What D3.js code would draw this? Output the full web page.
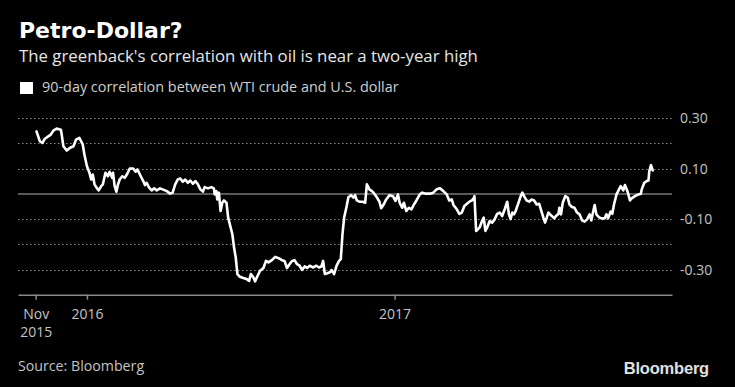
<!DOCTYPE html>
<html>
<head>
<meta charset="utf-8">
<script src="https://cdn.jsdelivr.net/npm/d3@7"></script>
<style>
  html, body { margin: 0; padding: 0; background: #000; }
  svg { display: block; }
</style>
</head>
<body>
<div id="chart"></div>
<script>
// Chart text
const titleText = 'Petro-Dollar?';
const subtitleText = "The greenback's correlation with oil is near a two-year high";
const legendText = '90-day correlation between WTI crude and U.S. dollar';
const sourceText = 'Source: Bloomberg';

// Axis ticks
const yGridValues = [0.3, 0.2, 0.1, -0.1, -0.2, -0.3];
const yLabelValues = [0.3, 0.1, -0.1, -0.3];
const yLabels = ['0.30', '0.10', '-0.10', '-0.30'];
const xTickDates = ['2015-11-01', '2016-01-01', '2017-01-01'];
const xTickLabels = [['Nov', '2015'], ['2016'], ['2017']];

// 90-day correlation, WTI crude vs U.S. dollar
const corrData = [
  ['2015-11-02', 0.248], ['2015-11-06', 0.209], ['2015-11-09', 0.202], ['2015-11-12', 0.219],
  ['2015-11-16', 0.228], ['2015-11-19', 0.235], ['2015-11-22', 0.251], ['2015-11-26', 0.259],
  ['2015-12-01', 0.255], ['2015-12-02', 0.235], ['2015-12-04', 0.189], ['2015-12-08', 0.172],
  ['2015-12-12', 0.183], ['2015-12-16', 0.189], ['2015-12-19', 0.215], ['2015-12-23', 0.222],
  ['2015-12-27', 0.196], ['2015-12-29', 0.156], ['2016-01-01', 0.110], ['2016-01-04', 0.084],
  ['2016-01-06', 0.057], ['2016-01-08', 0.077], ['2016-01-10', 0.038], ['2016-01-13', 0.022],
  ['2016-01-15', 0.014], ['2016-01-18', 0.031], ['2016-01-20', 0.038], ['2016-01-23', 0.084],
  ['2016-01-26', 0.070], ['2016-01-28', 0.088], ['2016-01-31', 0.064], ['2016-02-01', 0.084],
  ['2016-02-03', 0.031], ['2016-02-05', 0.009], ['2016-02-07', 0.038], ['2016-02-09', 0.057],
  ['2016-02-12', 0.070], ['2016-02-15', 0.064], ['2016-02-18', 0.080], ['2016-02-21', 0.101],
  ['2016-02-25', 0.101], ['2016-02-28', 0.088], ['2016-03-01', 0.097], ['2016-03-04', 0.077],
  ['2016-03-08', 0.051], ['2016-03-10', 0.035], ['2016-03-12', 0.044], ['2016-03-15', 0.025],
  ['2016-03-18', 0.014], ['2016-03-21', 0.022], ['2016-03-24', 0.014], ['2016-03-28', 0.022],
  ['2016-03-31', 0.018], ['2016-04-05', 0.011], ['2016-04-09', 0.001], ['2016-04-12', 0.005],
  ['2016-04-15', 0.038], ['2016-04-18', 0.057], ['2016-04-21', 0.061], ['2016-04-24', 0.048],
  ['2016-04-27', 0.057], ['2016-04-30', 0.044], ['2016-05-03', 0.053], ['2016-05-06', 0.040],
  ['2016-05-09', 0.051], ['2016-05-12', 0.038], ['2016-05-15', 0.018], ['2016-05-18', 0.009],
  ['2016-05-20', 0.027], ['2016-05-24', 0.022], ['2016-05-28', 0.027], ['2016-05-31', 0.022],
  ['2016-06-01', -0.002], ['2016-06-03', 0.011], ['2016-06-04', -0.022], ['2016-06-06', 0.005],
  ['2016-06-08', -0.068], ['2016-06-10', -0.035], ['2016-06-12', -0.026], ['2016-06-15', -0.035],
  ['2016-06-17', -0.094], ['2016-06-20', -0.134], ['2016-06-22', -0.160], ['2016-06-24', -0.213],
  ['2016-06-26', -0.252], ['2016-06-28', -0.318], ['2016-07-01', -0.329], ['2016-07-05', -0.334],
  ['2016-07-09', -0.338], ['2016-07-12', -0.345], ['2016-07-14', -0.318], ['2016-07-17', -0.331],
  ['2016-07-19', -0.347], ['2016-07-22', -0.325], ['2016-07-25', -0.305], ['2016-07-29', -0.294],
  ['2016-08-01', -0.266], ['2016-08-04', -0.272], ['2016-08-08', -0.263], ['2016-08-12', -0.250],
  ['2016-08-16', -0.255], ['2016-08-20', -0.263], ['2016-08-23', -0.266], ['2016-08-26', -0.294],
  ['2016-08-29', -0.279], ['2016-09-01', -0.266], ['2016-09-04', -0.263], ['2016-09-07', -0.279],
  ['2016-09-10', -0.285], ['2016-09-13', -0.302], ['2016-09-16', -0.288], ['2016-09-19', -0.294],
  ['2016-09-22', -0.285], ['2016-09-26', -0.292], ['2016-09-30', -0.285], ['2016-10-03', -0.292],
  ['2016-10-06', -0.288], ['2016-10-08', -0.266], ['2016-10-10', -0.318], ['2016-10-13', -0.315],
  ['2016-10-16', -0.311], ['2016-10-18', -0.302], ['2016-10-21', -0.318], ['2016-10-24', -0.285],
  ['2016-10-27', -0.266], ['2016-10-29', -0.259], ['2016-10-31', -0.160], ['2016-11-02', -0.094],
  ['2016-11-05', -0.048], ['2016-11-07', -0.013], ['2016-11-10', -0.005], ['2016-11-13', -0.015],
  ['2016-11-15', -0.005], ['2016-11-17', -0.026], ['2016-11-20', -0.031], ['2016-11-24', -0.031],
  ['2016-11-27', -0.035], ['2016-11-29', 0.038], ['2016-12-02', 0.018], ['2016-12-05', 0.011],
  ['2016-12-07', 0.005], ['2016-12-10', -0.009], ['2016-12-14', -0.031], ['2016-12-16', -0.057],
  ['2016-12-19', -0.042], ['2016-12-22', -0.022], ['2016-12-26', -0.005], ['2016-12-30', -0.009],
  ['2017-01-02', -0.028], ['2017-01-05', -0.002], ['2017-01-07', -0.035], ['2017-01-10', -0.055],
  ['2017-01-12', -0.035], ['2017-01-15', -0.068], ['2017-01-18', -0.055], ['2017-01-21', -0.061],
  ['2017-01-24', -0.042], ['2017-01-27', -0.026], ['2017-01-31', -0.002], ['2017-02-03', 0.005],
  ['2017-02-07', 0.001], ['2017-02-12', 0.001], ['2017-02-16', 0.005], ['2017-02-20', 0.018],
  ['2017-02-24', 0.022], ['2017-02-28', 0.011], ['2017-03-04', -0.002], ['2017-03-07', -0.026],
  ['2017-03-10', -0.022], ['2017-03-12', -0.044], ['2017-03-16', -0.061], ['2017-03-19', -0.079],
  ['2017-03-22', -0.074], ['2017-03-25', -0.048], ['2017-03-28', -0.039], ['2017-03-31', -0.031],
  ['2017-04-03', -0.026], ['2017-04-05', -0.018], ['2017-04-06', -0.009], ['2017-04-08', -0.147],
  ['2017-04-12', -0.134], ['2017-04-15', -0.108], ['2017-04-17', -0.094], ['2017-04-19', -0.147],
  ['2017-04-21', -0.134], ['2017-04-24', -0.108], ['2017-04-27', -0.114], ['2017-04-30', -0.101],
  ['2017-05-03', -0.079], ['2017-05-06', -0.074], ['2017-05-09', -0.088], ['2017-05-12', -0.061],
  ['2017-05-15', -0.031], ['2017-05-17', -0.081], ['2017-05-19', -0.100], ['2017-05-21', -0.074],
  ['2017-05-23', -0.081], ['2017-05-25', -0.068], ['2017-05-28', -0.039], ['2017-05-31', -0.009],
  ['2017-06-02', 0.005], ['2017-06-04', -0.009], ['2017-06-07', -0.026], ['2017-06-10', -0.031],
  ['2017-06-13', -0.022], ['2017-06-16', -0.026], ['2017-06-19', -0.042], ['2017-06-22', -0.039],
  ['2017-06-24', -0.061], ['2017-06-27', -0.094], ['2017-06-29', -0.114], ['2017-07-01', -0.094],
  ['2017-07-03', -0.074], ['2017-07-07', -0.088], ['2017-07-10', -0.097], ['2017-07-12', -0.088],
  ['2017-07-15', -0.079], ['2017-07-16', -0.055], ['2017-07-18', -0.081], ['2017-07-20', -0.035],
  ['2017-07-23', -0.009], ['2017-07-26', -0.015], ['2017-07-28', -0.042], ['2017-07-31', -0.052],
  ['2017-08-03', -0.055], ['2017-08-06', -0.074], ['2017-08-09', -0.081], ['2017-08-12', -0.105],
  ['2017-08-15', -0.110], ['2017-08-18', -0.101], ['2017-08-21', -0.081], ['2017-08-23', -0.105],
  ['2017-08-25', -0.074], ['2017-08-27', -0.044], ['2017-08-29', -0.081], ['2017-09-01', -0.092],
  ['2017-09-04', -0.097], ['2017-09-08', -0.097], ['2017-09-10', -0.081], ['2017-09-12', -0.097],
  ['2017-09-15', -0.070], ['2017-09-17', -0.079], ['2017-09-19', -0.042], ['2017-09-22', -0.002],
  ['2017-09-25', 0.018], ['2017-09-27', 0.031], ['2017-09-30', 0.014], ['2017-10-02', 0.035],
  ['2017-10-05', 0.011], ['2017-10-08', -0.026], ['2017-10-10', -0.018], ['2017-10-14', -0.009],
  ['2017-10-18', -0.002], ['2017-10-21', 0.001], ['2017-10-22', 0.018], ['2017-10-25', 0.044],
  ['2017-10-28', 0.051], ['2017-10-30', 0.053], ['2017-10-31', 0.090], ['2017-11-02', 0.114],
  ['2017-11-04', 0.093]
];

// Domain of the plot area (edge of gridlines)
const xDomain = ['2015-10-11', '2017-11-27'];
const yDomain = [-0.4, 0.3];

const width = 735;
const height = 387;
const plot = { left: 18, right: 672, top: 118.3, bottom: 294.7 };
const bodyFont = 'Open Sans, sans-serif';

const parseDate = d3.timeParse('%Y-%m-%d');
const points = corrData.map(d => ({ date: parseDate(d[0]), value: d[1] }));

const svg = d3.select('#chart')
  .append('svg')
  .attr('width', width)
  .attr('height', height)
  .style('background', '#000');

const xScale = d3.scaleTime()
  .domain(xDomain.map(parseDate))
  .range([plot.left, plot.right]);

const yScale = d3.scaleLinear()
  .domain(yDomain)
  .range([plot.bottom, plot.top]);

// Title block
svg.append('text')
  .attr('x', 19)
  .attr('y', 38)
  .attr('fill', '#fff')
  .style('font-family', 'DejaVu Sans, sans-serif')
  .style('font-weight', 'bold')
  .style('font-size', '22px')
  .text(titleText);

svg.append('text')
  .attr('x', 19)
  .attr('y', 62)
  .attr('fill', '#e6e6e6')
  .style('font-family', bodyFont)
  .style('font-size', '16.8px')
  .text(subtitleText);

// Legend
svg.append('rect')
  .attr('x', 20)
  .attr('y', 82)
  .attr('width', 13)
  .attr('height', 12)
  .attr('fill', '#fff');

svg.append('text')
  .attr('x', 42)
  .attr('y', 92)
  .attr('fill', '#cfcfcf')
  .style('font-family', bodyFont)
  .style('font-size', '14.4px')
  .text(legendText);

// Dotted gridlines
svg.append('g')
  .selectAll('line')
  .data(yGridValues)
  .join('line')
  .attr('x1', plot.left)
  .attr('x2', plot.right)
  .attr('y1', d => Math.round(yScale(d)) + 0.5)
  .attr('y2', d => Math.round(yScale(d)) + 0.5)
  .attr('stroke', '#8a8a8a')
  .attr('stroke-width', 1)
  .attr('stroke-dasharray', '1.5,2.5');

// Zero line
svg.append('line')
  .attr('x1', plot.left)
  .attr('x2', plot.right)
  .attr('y1', yScale(0))
  .attr('y2', yScale(0))
  .attr('stroke', '#777')
  .attr('stroke-width', 1.5);

// Right-side value labels
svg.append('g')
  .selectAll('text')
  .data(yLabelValues)
  .join('text')
  .attr('x', 680)
  .attr('y', d => yScale(d) + 5)
  .attr('fill', '#c4c4c4')
  .style('font-family', bodyFont)
  .style('font-size', '14px')
  .text((d, i) => yLabels[i]);

// Bottom axis
const tickDates = xTickDates.map(parseDate);
const xAxis = d3.axisBottom(xScale)
  .tickValues(tickDates)
  .tickSize(5)
  .tickSizeOuter(0)
  .tickFormat('');

const xAxisG = svg.append('g')
  .attr('transform', `translate(0,${plot.bottom})`)
  .call(xAxis);

xAxisG.select('.domain')
  .attr('stroke', '#8a8a8a')
  .attr('stroke-width', 1.5);
xAxisG.selectAll('.tick line')
  .attr('stroke', '#8a8a8a')
  .attr('stroke-width', 1.5);

const tickLabels = xAxisG.selectAll('.tick')
  .append('text')
  .attr('fill', '#c4c4c4')
  .attr('text-anchor', 'middle')
  .style('font-family', bodyFont)
  .style('font-size', '14px');

tickLabels.each(function(d, i) {
  d3.select(this).selectAll('tspan')
    .data(xTickLabels[i])
    .join('tspan')
    .attr('x', 0)
    .attr('y', (t, j) => 24 + j * 18)
    .text(t => t);
});

// Correlation line
const line = d3.line()
  .x(d => xScale(d.date))
  .y(d => yScale(d.value));

svg.append('path')
  .datum(points)
  .attr('d', line)
  .attr('fill', 'none')
  .attr('stroke', '#fff')
  .attr('stroke-width', 2.6)
  .attr('stroke-linejoin', 'round')
  .attr('stroke-linecap', 'round');

// Footer
svg.append('text')
  .attr('x', 18)
  .attr('y', 371)
  .attr('fill', '#c4c4c4')
  .style('font-family', bodyFont)
  .style('font-size', '14.2px')
  .text(sourceText);

svg.append('text')
  .attr('x', 709)
  .attr('y', 374)
  .attr('text-anchor', 'end')
  .attr('fill', '#e0e0e0')
  .style('font-family', 'Liberation Sans, Arial, sans-serif')
  .style('font-weight', 'bold')
  .style('font-size', '16.5px')
  .style('letter-spacing', '-0.2px')
  .text('Bloomberg');
</script>
</body>
</html>
